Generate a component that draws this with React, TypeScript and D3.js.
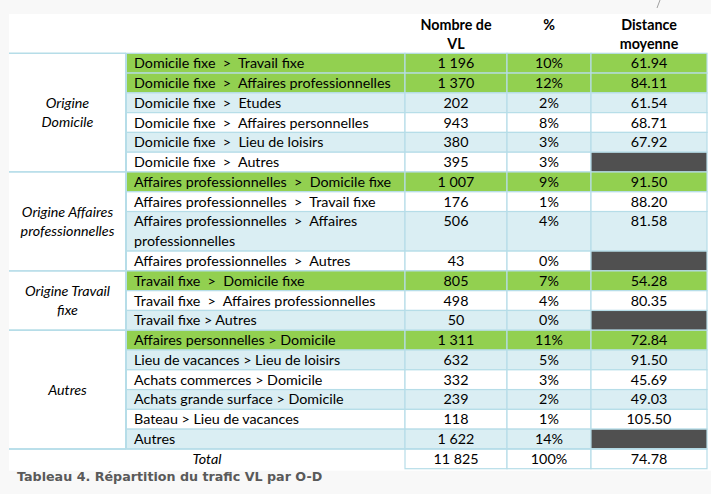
import React from "react";
import * as d3 from "d3";

const groupLabels = ["Origine\nDomicile", "Origine Affaires\nprofessionnelles", "Origine Travail\nfixe", "Autres"];
const groupSizes = [6, 4, 3, 6];

const flowLabels = [
  "Domicile fixe  >  Travail fixe",
  "Domicile fixe  >  Affaires professionnelles",
  "Domicile fixe  >  Etudes",
  "Domicile fixe  >  Affaires personnelles",
  "Domicile fixe  >  Lieu de loisirs",
  "Domicile fixe  >  Autres",
  "Affaires professionnelles  >  Domicile fixe",
  "Affaires professionnelles  >  Travail fixe",
  "Affaires professionnelles  >  Affaires\nprofessionnelles",
  "Affaires professionnelles  >  Autres",
  "Travail fixe  >  Domicile fixe",
  "Travail fixe  >  Affaires professionnelles",
  "Travail fixe > Autres",
  "Affaires personnelles > Domicile",
  "Lieu de vacances > Lieu de loisirs",
  "Achats commerces > Domicile",
  "Achats grande surface > Domicile",
  "Bateau > Lieu de vacances",
  "Autres",
];
const vlCounts = [1196, 1370, 202, 943, 380, 395, 1007, 176, 506, 43, 805, 498, 50, 1311, 632, 332, 239, 118, 1622];
const vlPercents = [10, 12, 2, 8, 3, 3, 9, 1, 4, 0, 7, 4, 0, 11, 5, 3, 2, 1, 14];
const avgDistances: (number | null)[] = [61.94, 84.11, 61.54, 68.71, 67.92, null, 91.5, 88.2, 81.58, null, 54.28, 80.35, null, 72.84, 91.5, 45.69, 49.03, 105.5, null];
const mainFlows = [true, true, false, false, false, false, true, false, false, false, true, false, false, true, false, false, false, false, false];

const totalLabel = "Total";
const totalCount = 11825;
const totalPercent = 100;
const totalDistance = 74.78;

const headerLabels = ["Nombre de\nVL", "%", "Distance\nmoyenne"];
const caption = "Tableau 4. Répartition du trafic VL par O-D";

const W = 711;
const H = 494;
const colEdges = [9, 126, 405, 507, 591, 707];
const TOP = 53.3;
const BOTTOM = 468.7;

const GREEN = "#92D050";
const BLUE = "#DAEEF3";
const WHITE = "#FFFFFF";
const DARK = "#505050";
const BORDER = "#B6DDE8";
const FONT = "Lato, 'Open Sans', sans-serif";
const FS = 14.3;

const locale = d3.formatLocale({ decimal: ".", thousands: "\u00a0", grouping: [3], currency: ["", ""] });
const fmtCount = locale.format(",d");
const fmtDist = d3.format(".2f");

export default function App() {
  const lineCounts = flowLabels.map((l) => l.split("\n").length);
  const starts: number[] = [];
  let acc = 0;
  lineCounts.forEach((n) => {
    starts.push(acc);
    acc += n;
  });
  const totalStart = acc;
  const totalUnits = acc + 1;
  const y = d3.scaleLinear().domain([0, totalUnits]).range([TOP, BOTTOM]);
  const unit = y(1) - y(0);

  const groupStarts: number[] = [];
  let gi = 0;
  groupSizes.forEach((s) => {
    groupStarts.push(gi);
    gi += s;
  });
  const rowTop = (i: number) => y(starts[i]);
  const rowBottom = (i: number) => y(starts[i] + lineCounts[i]);

  const baseOff = unit / 2 + FS * 0.35;

  const fillFor = (i: number) => (mainFlows[i] ? GREEN : i % 2 === 0 ? BLUE : WHITE);

  const numCells = (top: number, bottom: number, vals: string[], fill: string, darkLast: boolean) => (
    <g>
      {[2, 3, 4].map((c, k) => (
        <g key={c}>
          <rect
            x={colEdges[c]}
            y={top}
            width={colEdges[c + 1] - colEdges[c]}
            height={bottom - top}
            fill={k === 2 && darkLast ? DARK : fill}
            stroke={BORDER}
            strokeWidth={1.2}
          />
          {!(k === 2 && darkLast) && (
            <text
              x={(colEdges[c] + colEdges[c + 1]) / 2}
              y={top + baseOff}
              textAnchor="middle"
              fontFamily={FONT}
              fontSize={FS}
              fill="#000"
            >
              {vals[k]}
            </text>
          )}
        </g>
      ))}
    </g>
  );

  return (
    <div style={{ position: "absolute", left: 0, top: 0 }}>
      <svg width={W} height={H} style={{ display: "block" }}>
        <rect x={0} y={0} width={W} height={H} fill="#F8F8F8" />
        <rect x={9} y={14} width={W - 9} height={BOTTOM + 2 - 14} fill="#FFFFFF" />
        <line x1={660} y1={0} x2={657} y2={8} stroke="#A0A0A0" strokeWidth={1} />

        {/* header */}
        {headerLabels.map((h, k) => {
          const c = k + 2;
          const cx = (colEdges[c] + colEdges[c + 1]) / 2;
          return (
            <text key={k} x={cx} y={30} textAnchor="middle" fontFamily={FONT} fontSize={FS} fontWeight="bold" fill="#000">
              {h.split("\n").map((ln, j) => (
                <tspan key={j} x={cx} dy={j === 0 ? 0 : 18.6}>
                  {ln}
                </tspan>
              ))}
            </text>
          );
        })}

        {/* group column */}
        {groupSizes.map((s, g) => {
          const top = rowTop(groupStarts[g]);
          const bottom = rowBottom(groupStarts[g] + s - 1);
          const lines = groupLabels[g].split("\n");
          const cx = (colEdges[0] + colEdges[1]) / 2;
          const mid = (top + bottom) / 2;
          const lh = 19;
          const firstCenter = mid - ((lines.length - 1) * lh) / 2;
          return (
            <g key={g}>
              <rect x={colEdges[0]} y={top} width={colEdges[1] - colEdges[0]} height={bottom - top} fill={WHITE} />
              <line x1={colEdges[0]} x2={colEdges[1]} y1={top} y2={top} stroke={BORDER} strokeWidth={1.5} />
              <line x1={colEdges[0]} x2={colEdges[1]} y1={bottom} y2={bottom} stroke={BORDER} strokeWidth={1.5} />
              {lines.map((ln, j) => (
                <text
                  key={j}
                  x={cx}
                  y={firstCenter + j * lh + FS * 0.35}
                  textAnchor="middle"
                  fontFamily={FONT}
                  fontSize={FS}
                  fontStyle="italic"
                  fill="#000"
                >
                  {ln}
                </text>
              ))}
            </g>
          );
        })}

        {/* flow rows */}
        {flowLabels.map((lab, i) => {
          const top = rowTop(i);
          const bottom = rowBottom(i);
          const fill = fillFor(i);
          const d = avgDistances[i];
          return (
            <g key={i}>
              <rect x={colEdges[1]} y={top} width={colEdges[2] - colEdges[1]} height={bottom - top} fill={fill} stroke={BORDER} strokeWidth={1.2} />
              {lab.split("\n").map((ln, j) => (
                <text
                  key={j}
                  x={colEdges[1] + 8}
                  y={top + baseOff + j * unit}
                  fontFamily={FONT}
                  fontSize={FS}
                  fill="#000"
                  style={{ whiteSpace: "pre" }}
                >
                  {ln}
                </text>
              ))}
              {numCells(top, bottom, [fmtCount(vlCounts[i]), `${vlPercents[i]}%`, d == null ? "" : fmtDist(d)], fill, d == null)}
            </g>
          );
        })}

        <line x1={colEdges[1]} x2={colEdges[1]} y1={TOP} y2={y(totalStart)} stroke={BORDER} strokeWidth={2} />

        {/* total row */}
        <text
          x={(colEdges[0] + colEdges[2]) / 2}
          y={y(totalStart) + baseOff}
          textAnchor="middle"
          fontFamily={FONT}
          fontSize={FS}
          fontStyle="italic"
          fill="#000"
        >
          {totalLabel}
        </text>
        {numCells(y(totalStart), y(totalUnits), [fmtCount(totalCount), `${totalPercent}%`, fmtDist(totalDistance)], WHITE, false)}
        <line x1={colEdges[0]} x2={colEdges[5]} y1={y(totalStart)} y2={y(totalStart)} stroke={BORDER} strokeWidth={1.5} />

        <text x={17} y={481} fontFamily="'DejaVu Sans', Verdana, sans-serif" fontSize={12.7} fontWeight="bold" fill="#595959">
          {caption}
        </text>
      </svg>
    </div>
  );
}
